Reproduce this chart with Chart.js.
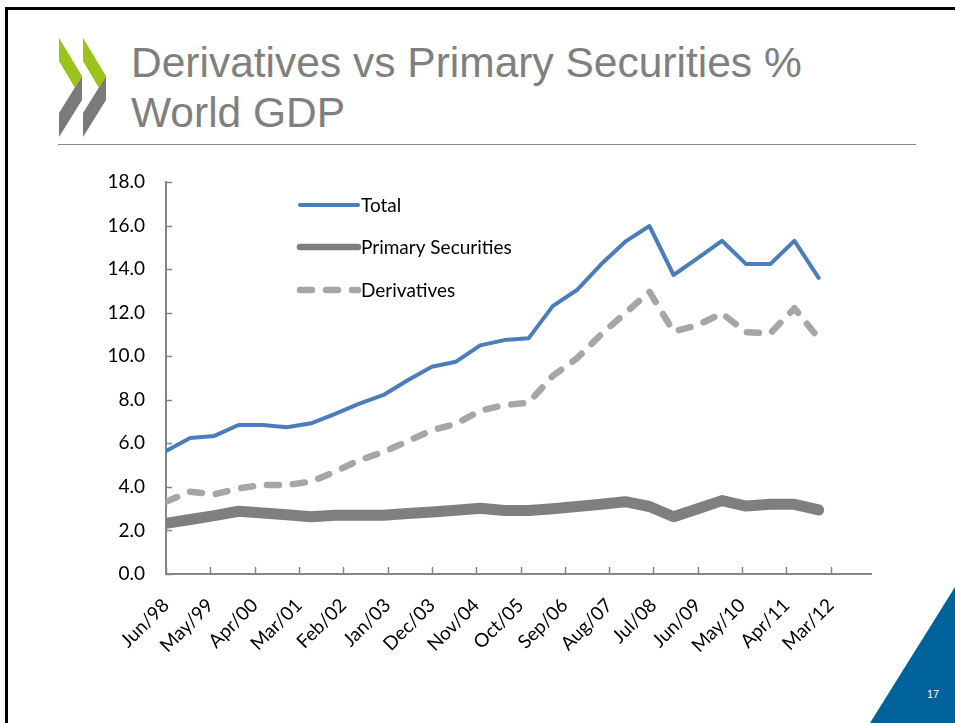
<!DOCTYPE html>
<html>
<head>
<meta charset="utf-8">
<script src="https://cdn.jsdelivr.net/npm/chart.js@4.4.1/dist/chart.umd.min.js"></script>
<style>
  html, body { margin: 0; padding: 0; background: #fff; }
  body { width: 955px; height: 723px; position: relative; overflow: hidden; }
  .frame-top { position: absolute; left: 5px; top: 7px; width: 950px; height: 3px; background: #000; }
  .frame-left { position: absolute; left: 5px; top: 7px; width: 3px; height: 716px; background: #000; }
  .title {
    position: absolute; left: 131px; top: 38px;
    font-family: "Liberation Sans", Arial, sans-serif; font-size: 42.5px; line-height: 50px;
    color: #7f7f7f; white-space: nowrap;
  }
  .rule { position: absolute; left: 58px; top: 144px; width: 858px; height: 1px; background: #8a8a8a; }
  svg.deco { position: absolute; left: 0; top: 0; }
  #chart { position: absolute; left: 0; top: 0; }
</style>
</head>
<body>
<div class="frame-top"></div>
<div class="frame-left"></div>
<svg class="deco" width="955" height="723">
  <!-- logo chevrons -->
  <g>
    <polygon points="82,76 82,100 59,137 59,113" fill="#7a7a7a"/>
    <polygon points="59,38 82,76 75,88 59,61" fill="#9bc31c"/>
    <polygon points="106,76 106,100 83,137 83,113" fill="#7a7a7a"/>
    <polygon points="83,38 106,76 99,88 83,61" fill="#9bc31c"/>
  </g>
  <!-- page corner -->
  <polygon points="955,587 870,723 955,723" fill="#00629b"/>
  <text x="927" y="698" font-family="Liberation Sans, Arial, sans-serif" font-size="11" fill="#ffffff">17</text>
</svg>
<div class="title">Derivatives vs Primary Securities %<br>World GDP</div>
<div class="rule"></div>
<canvas id="chart" width="955" height="723"></canvas>
<script>
// Semi-annual observations, share of world GDP
const periods = [
  'Jun/98','Dec/98','Jun/99','Dec/99','Jun/00','Dec/00','Jun/01','Dec/01',
  'Jun/02','Dec/02','Jun/03','Dec/03','Jun/04','Dec/04','Jun/05','Dec/05',
  'Jun/06','Dec/06','Jun/07','Dec/07','Jun/08','Dec/08','Jun/09','Dec/09',
  'Jun/10','Dec/10','Jun/11','Dec/11'
];
const total = [
  5.65, 6.25, 6.34, 6.84, 6.84, 6.74, 6.92, 7.35,
  7.82, 8.22, 8.9, 9.52, 9.75, 10.5, 10.74, 10.82,
  12.3, 13.04, 14.22, 15.26, 15.98, 13.73, 14.5, 15.3,
  14.23, 14.23, 15.3, 13.6
];
const primary = [
  2.33, 2.5, 2.68, 2.88, 2.8, 2.72, 2.63, 2.7,
  2.7, 2.7, 2.78, 2.85, 2.93, 3.02, 2.92, 2.92,
  3.0, 3.1, 3.2, 3.32, 3.1, 2.63, 3.0, 3.37,
  3.12, 3.2, 3.2, 2.94
];
const derivatives = [
  3.32, 3.78, 3.66, 3.93, 4.09, 4.09, 4.24, 4.7,
  5.23, 5.6, 6.1, 6.6, 6.9, 7.5, 7.76, 7.86,
  9.1, 9.9, 11.0, 11.98, 12.96, 11.13, 11.43, 11.97,
  11.1, 11.05, 12.2, 10.82
];
const tickLabels = [
  'Jun/98','May/99','Apr/00','Mar/01','Feb/02','Jan/03','Dec/03','Nov/04',
  'Oct/05','Sep/06','Aug/07','Jul/08','Jun/09','May/10','Apr/11','Mar/12'
];
const yTicks = [0, 2, 4, 6, 8, 10, 12, 14, 16, 18];

// Month/year labels -> months elapsed since the first observation
const MONTHS = {Jan:0,Feb:1,Mar:2,Apr:3,May:4,Jun:5,Jul:6,Aug:7,Sep:8,Oct:9,Nov:10,Dec:11};
function monthNumber(lbl) {
  const [m, y] = lbl.split('/');
  const yy = parseInt(y, 10);
  return (yy < 50 ? 2000 + yy : 1900 + yy) * 12 + MONTHS[m];
}
const origin = monthNumber(periods[0]);
const monthsFrom = lbl => monthNumber(lbl) - origin;
const series = vals => vals.map((v, i) => ({x: monthsFrom(periods[i]), y: v}));
const tickPositions = tickLabels.map(monthsFrom);

const LABEL_FONT = {family: 'Lato, "Open Sans", sans-serif', size: 19};
const AXIS_COLOR = '#868686';

// Short tick marks pointing into the plot, Excel style
const innerTicks = {
  id: 'innerTicks',
  afterDatasetsDraw(chart) {
    const {ctx, scales: {x, y}, chartArea} = chart;
    ctx.save();
    ctx.strokeStyle = AXIS_COLOR;
    ctx.lineWidth = 1.5;
    ctx.beginPath();
    y.ticks.forEach(t => {
      const py = Math.round(y.getPixelForValue(t.value)) + 0.5;
      ctx.moveTo(chartArea.left, py);
      ctx.lineTo(chartArea.left + 6, py);
    });
    x.ticks.forEach(t => {
      const px = Math.round(x.getPixelForValue(t.value)) + 0.5;
      ctx.moveTo(px, chartArea.bottom);
      ctx.lineTo(px, chartArea.bottom - 7);
    });
    ctx.stroke();
    ctx.restore();
  }
};

// Legend drawn inside the plot area from the datasets' own styles
const innerLegend = {
  id: 'innerLegend',
  afterDraw(chart) {
    const {ctx} = chart;
    const x0 = 300, x1 = 358, rows = [205, 247, 290];
    ctx.save();
    chart.data.datasets.forEach((ds, i) => {
      const yy = rows[i];
      ctx.beginPath();
      ctx.strokeStyle = ds.borderColor;
      ctx.lineWidth = ds.legendWidth || ds.borderWidth;
      ctx.lineCap = 'round';
      ctx.setLineDash(ds.borderDash || []);
      ctx.moveTo(x0, yy);
      ctx.lineTo(x1, yy);
      ctx.stroke();
      ctx.setLineDash([]);
      ctx.fillStyle = '#000';
      ctx.font = `${LABEL_FONT.size}px ${LABEL_FONT.family}`;
      ctx.textBaseline = 'middle';
      ctx.textAlign = 'left';
      ctx.fillText(ds.label, 361, yy + 1);
    });
    ctx.restore();
  }
};

new Chart(document.getElementById('chart'), {
  type: 'line',
  data: {
    datasets: [
      {
        label: 'Total', data: series(total),
        borderColor: '#4a7ebb', borderWidth: 4, legendWidth: 4,
        borderCapStyle: 'round', borderJoinStyle: 'round',
        pointRadius: 0, tension: 0
      },
      {
        label: 'Primary Securities', data: series(primary),
        borderColor: '#7f7f7f', borderWidth: 11, legendWidth: 6.5,
        borderCapStyle: 'round', borderJoinStyle: 'round',
        pointRadius: 0, tension: 0
      },
      {
        label: 'Derivatives', data: series(derivatives),
        borderColor: '#a6a6a6', borderWidth: 6.5, legendWidth: 6.5,
        borderDash: [12, 14], borderCapStyle: 'round', borderJoinStyle: 'round',
        pointRadius: 0, tension: 0
      }
    ]
  },
  options: {
    responsive: false,
    animation: false,
    events: [],
    layout: {padding: {left: 0, top: 182, right: 84, bottom: 49}},
    plugins: {legend: {display: false}, tooltip: {enabled: false}},
    scales: {
      x: {
        type: 'linear', min: 0, max: 175,
        grid: {display: false},
        border: {display: true, color: AXIS_COLOR, width: 2},
        afterBuildTicks: s => { s.ticks = tickPositions.map(v => ({value: v})); },
        afterFit: s => { s.height = 100; },
        ticks: {
          autoSkip: false, minRotation: 45, maxRotation: 45, padding: 12,
          font: LABEL_FONT, color: '#000',
          callback: v => tickLabels[tickPositions.indexOf(v)]
        }
      },
      y: {
        min: 0, max: 18,
        grid: {display: false},
        border: {display: true, color: AXIS_COLOR, width: 2},
        afterBuildTicks: s => { s.ticks = yTicks.map(v => ({value: v})); },
        afterFit: s => { s.width = 166; },
        ticks: {
          padding: 13, font: LABEL_FONT, color: '#000',
          callback: v => v.toFixed(1)
        }
      }
    }
  },
  plugins: [innerTicks, innerLegend]
});
</script>
</body>
</html>
